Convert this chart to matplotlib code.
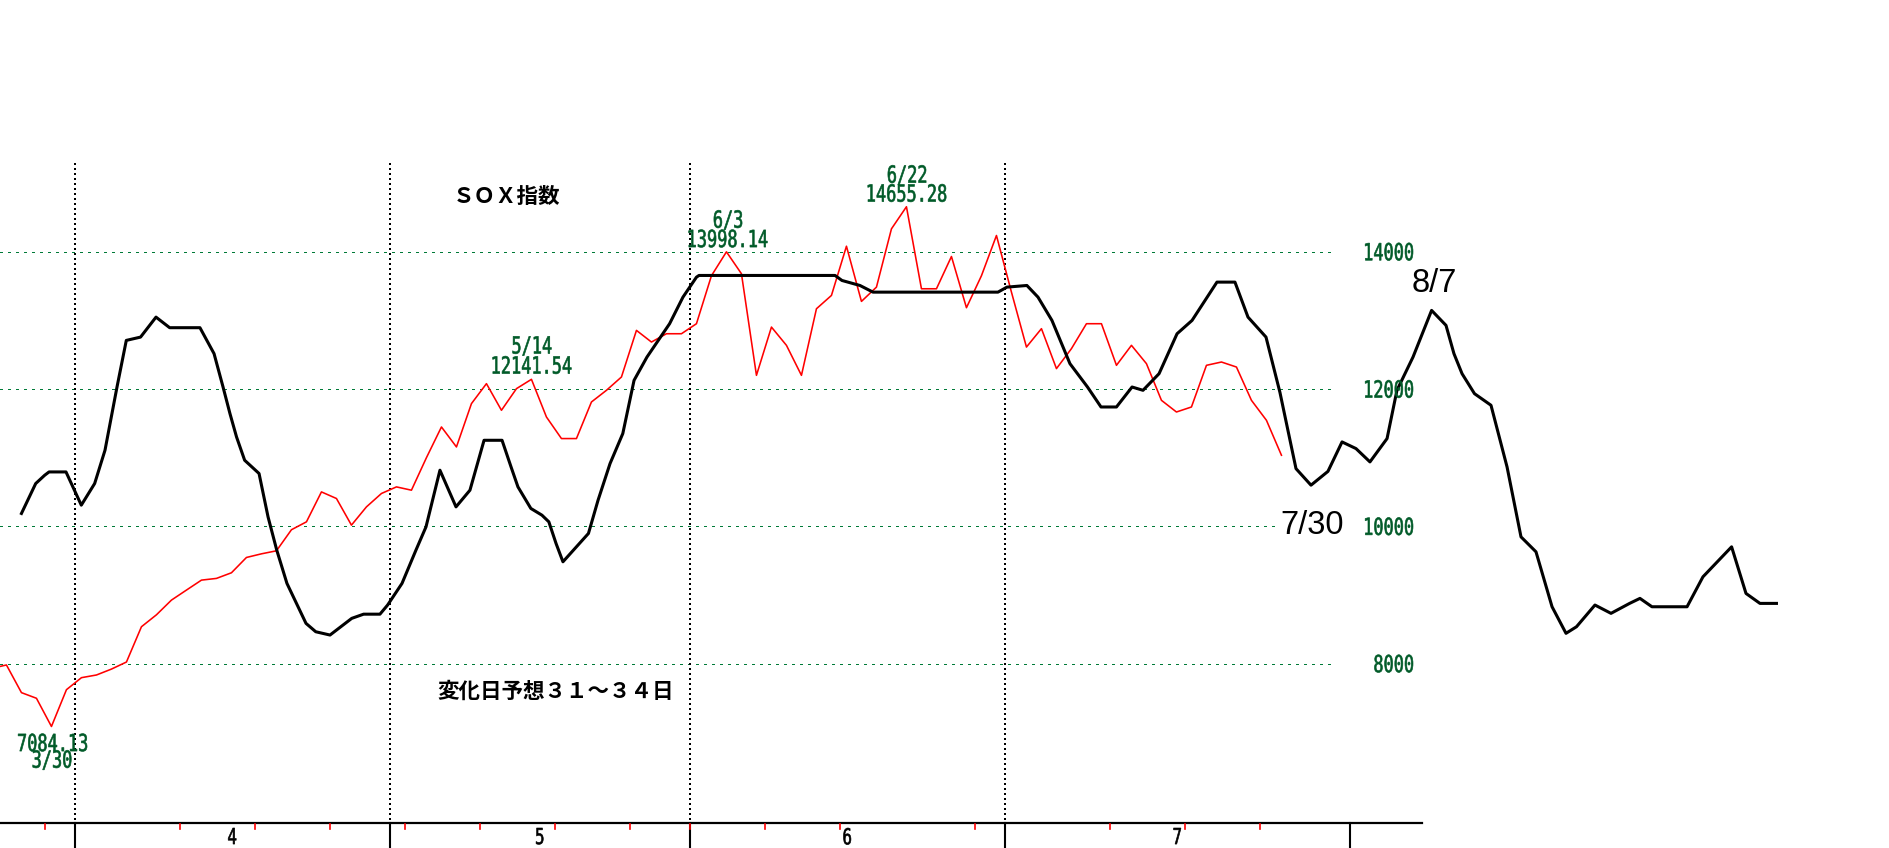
import numpy as np
import matplotlib
matplotlib.use("Agg")
import matplotlib.pyplot as plt
from matplotlib.textpath import TextPath
from matplotlib.patches import PathPatch
from matplotlib.font_manager import FontProperties
from matplotlib.transforms import Affine2D, ScaledTranslation

# red line: daily closes, day 0 = Apr 1 (first month boundary)
red_start = -6
red_vals = [7930, 7980, 7577, 7495, 7084, 7620, 7795, 7834, 7920, 8023,
            8537, 8711, 8925, 9071, 9216, 9241, 9323, 9546, 9599, 9643,
            9950, 10065, 10501, 10405, 10017, 10283, 10478, 10574, 10526, 11000,
            11447, 11156, 11787, 12078, 11690, 12005, 12141, 11592, 11278, 11278,
            11811, 11981, 12175, 12854, 12684, 12805, 12805, 12951, 13650, 13998,
            13679, 12199, 12902, 12636, 12199, 13169, 13363, 14080, 13276, 13484,
            14333, 14655, 13460, 13460, 13930, 13184, 13650, 14236, 13411, 12611,
            12879, 12297, 12588, 12951, 12951, 12345, 12636, 12369, 11835, 11665,
            11738, 12345, 12393, 12320, 11835, 11544, 11035]

black_days = [-3.55, -2.6, -2.0, -1.71, -0.58, 0.44, 1.33, 2.02, 2.82, 3.44,
              4.39, 5.42, 6.33, 8.35, 9.29, 9.89, 10.35, 10.79, 11.33, 12.29,
              12.89, 13.47, 14.15, 15.42, 16.07, 17.02, 18.47, 19.26, 20.35, 20.86,
              21.82, 22.75, 23.42, 24.35, 25.42, 26.35, 27.29, 28.49, 29.09, 29.55,
              30.41, 31.15, 31.61, 32.09, 32.55, 34.25, 34.89, 35.69, 36.54, 37.29,
              38.15, 39.66, 40.55, 41.45, 41.62, 50.69, 51.15, 52.35, 53.22, 61.55,
              62.15, 63.48, 64.22, 65.15, 66.35, 67.52, 68.42, 69.45, 70.49, 71.22,
              72.29, 73.49, 74.49, 76.15, 77.35, 78.22, 79.42, 80.35, 81.42, 82.42,
              83.55, 84.49, 85.42, 86.35, 87.49, 88.15, 89.22, 90.46, 91.42, 91.95,
              92.49, 93.32, 94.42, 95.49, 96.42, 97.42, 98.49, 99.42, 100.12, 101.35,
              102.42, 103.66, 104.35, 105.15, 107.49, 108.55, 110.46, 111.42, 112.35, 113.45]
black_vals = [10187, 10623, 10744, 10792, 10792, 10308, 10623, 11108, 12029, 12708,
              12756, 13047, 12893, 12893, 12515, 12029, 11642, 11301, 10962, 10769,
              10137, 9653, 9168, 8586, 8464, 8416, 8659, 8720, 8720, 8853,
              9168, 9653, 9992, 10817, 10283, 10526, 11253, 11253, 10865, 10574,
              10260, 10162, 10065, 9750, 9483, 9896, 10380, 10914, 11351, 12126,
              12465, 12951, 13338, 13629, 13654, 13654, 13581, 13508, 13411, 13411,
              13484, 13508, 13338, 12999, 12369, 12029, 11738, 11738, 12029, 11981,
              12223, 12805, 12999, 13557, 13557, 13047, 12756, 11950, 10840, 10599,
              10800, 11229, 11132, 10938, 11278, 11981, 12465, 13145, 12927, 12515,
              12223, 11932, 11763, 10865, 9846, 9628, 8828, 8441, 8537, 8853,
              8732, 8877, 8950, 8828, 8828, 9264, 9701, 9022, 8877, 8877]

grid_vals = [8000, 10000, 12000, 14000]
grid_labels = ["8000", "10000", "12000", "14000"]
month_starts = [0, 21, 41, 62, 85]
month_names = ["4", "5", "6", "7"]
week_ticks = [-2, 7, 12, 17, 22, 27, 32, 37, 41, 46, 51, 60, 69, 74, 79]

# pixel <-> data helpers (15 px per trading day, 2000 pts per ~137 px)
X0, PXD = 74.7, 15.0
def xd(px):
    return (px - X0) / PXD
def yv(py):
    return 8000 + (663.6 - py) * (6000 / 411.9)

GREEN = "#007a38"
TGREEN = "#005a28"
JP = ["Noto Sans CJK JP", "DejaVu Sans"]
MONO = FontProperties(family="DejaVu Sans Mono")

fig = plt.figure(figsize=(18.9, 8.48), dpi=100)
ax = fig.add_axes([0, 0, 1, 1])
ax.set_axis_off()
ax.set_xlim(xd(0), xd(1890))
ax.set_ylim(yv(848), yv(0))


def narrow(x, y, s, em=23.5, color=TGREEN, ha="center", va="center", sx=0.72):
    # condensed digits like the old bitmap font: squeeze a text path sideways
    tp = TextPath((0, 0), s, size=em, prop=MONO)
    ext = tp.get_extents()
    ox = {"center": (ext.x0 + ext.x1) / 2, "right": ext.x1, "left": ext.x0}[ha]
    oy = {"center": (ext.y0 + ext.y1) / 2, "top": ext.y1, "bottom": ext.y0}[va]
    tr = (Affine2D().translate(-ox, -oy).scale(sx / 100, 1 / 100)
          + fig.dpi_scale_trans + ScaledTranslation(x, y, ax.transData))
    ax.add_patch(PathPatch(tp, transform=tr, facecolor=color,
                           edgecolor=color, lw=0.45, zorder=6))


# horizontal dotted grid
for v, lab in zip(grid_vals, grid_labels):
    ax.plot([xd(0), xd(1330)], [v, v], color=GREEN, lw=0.8, ls=(0, (2.5, 5)),
            antialiased=False)
    narrow(xd(1413), v, lab, ha="right")

# vertical dotted month lines
for d in month_starts[:-1]:
    ax.plot([d, d], [yv(163), yv(823)], color="black", lw=1.44, ls=(0, (1, 2)),
            antialiased=False)

# bottom axis
ax.plot([xd(0), xd(1422)], [yv(823), yv(823)], color="black", lw=1.6)
for d in month_starts:
    ax.plot([d, d], [yv(823), yv(848)], color="black", lw=1.5)
for d in week_ticks:
    ax.plot([d, d], [yv(824), yv(829)], color="red", lw=1.2)
for i, m in enumerate(month_names):
    mid = (month_starts[i] + month_starts[i + 1]) / 2
    narrow(mid, yv(828), m, em=22, color="black", va="top")

# series
red_x = np.arange(red_start, red_start + len(red_vals)) + 0.45
ax.plot(red_x, red_vals, color="red", lw=1.15, zorder=3)
ax.plot(black_days, black_vals, color="black", lw=2.2, zorder=4)

# annotations
ax.text(xd(507), yv(197), "ＳＯＸ指数", fontsize=15.5, family=JP,
        weight="bold", ha="center", va="center")
ax.text(xd(556), yv(691), "変化日予想３１～３４日", fontsize=15.5, family=JP,
        weight="bold", ha="center", va="center")

notes = [(532, 346, "5/14"), (532, 365, "12141.54"),
         (728, 220, "6/3"), (728, 238.5, "13998.14"),
         (907, 175, "6/22"), (907, 193, "14655.28"),
         (52.6, 742.5, "7084.13"), (52, 760, "3/30")]
for px, py, s in notes:
    narrow(xd(px), yv(py), s)

ax.text(xd(1312), yv(525.5), "7/30", fontsize=23.5, family=["Liberation Sans", "DejaVu Sans"],
        ha="center", va="center", zorder=5,
        bbox=dict(facecolor="white", edgecolor="none", pad=0))
ax.text(xd(1434.5), yv(283), "8/7", fontsize=23.5, family=["Liberation Sans", "DejaVu Sans"],
        ha="center", va="center", zorder=5)

fig.savefig("out.png", dpi=100)
